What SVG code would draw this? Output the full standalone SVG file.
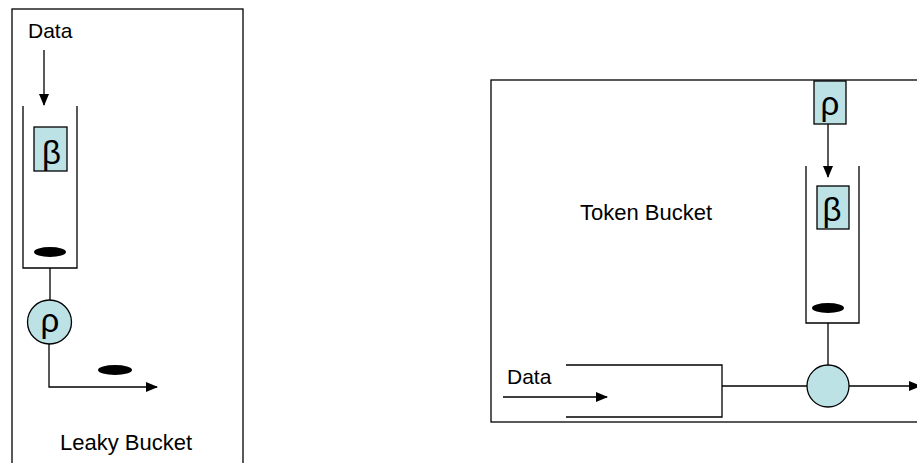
<svg xmlns="http://www.w3.org/2000/svg" width="917" height="463" viewBox="0 0 917 463">
<defs>
<marker id="ah" markerWidth="12" markerHeight="10" refX="11" refY="5" orient="auto" markerUnits="userSpaceOnUse">
<path d="M0,0 L12,5 L0,10 Z" fill="#000"/>
</marker>
<style>
.ln{stroke:#000;stroke-width:1.3;fill:none}
.fr{stroke:#000;stroke-width:1.3;fill:#fff}
.sym{fill:#bce2e6;stroke:#000;stroke-width:1.3}
.tok{fill:#000}
.t{font-family:"Liberation Sans",Arial,sans-serif;font-size:22px;fill:#000}
.g{font-family:"Liberation Sans",Arial,sans-serif;font-size:33px;fill:#000}
</style>
</defs>
<rect width="917" height="463" fill="#fff"/>

<g id="leaky">
<rect class="fr" x="12" y="9" width="231" height="470"/>
<text class="t" x="28" y="38" style="font-size:21px">Data</text>
<g id="leaky-bucket">
<path class="ln" d="M23,106 V268 H77 V106"/>
<ellipse class="tok" cx="50" cy="252" rx="16" ry="5"/>
</g>
<g id="leaky-beta">
<rect class="sym" x="34" y="127" width="33" height="44"/>
<text class="g" x="51.5" y="164" text-anchor="middle">β</text>
</g>
<g id="leaky-rho">
<circle class="sym" cx="49.5" cy="322" r="22"/>
<text class="g" x="50" y="332" text-anchor="middle">ρ</text>
</g>
<ellipse class="tok" cx="115" cy="370" rx="17" ry="5"/>
<text class="t" x="60" y="450">Leaky Bucket</text>
</g>

<g id="token">
<rect class="fr" x="491" y="80" width="460" height="342"/>
<text class="t" x="580" y="220">Token Bucket</text>
<g id="token-rho">
<rect class="sym" x="814" y="81" width="32" height="43"/>
<text class="g" x="830" y="115" text-anchor="middle">ρ</text>
</g>
<g id="token-bucket">
<path class="ln" d="M806,166 V323 H859 V166"/>
<ellipse class="tok" cx="828" cy="308" rx="16" ry="5"/>
</g>
<g id="token-beta">
<rect class="sym" x="817" y="186" width="32" height="43"/>
<text class="g" x="832" y="221" text-anchor="middle">β</text>
</g>
<g id="data-channel">
<path class="ln" d="M566,365 H722 V417 H566"/>
<text class="t" x="507" y="384" style="font-size:21px">Data</text>
</g>
<g id="token-gate">
<circle class="sym" cx="828" cy="386" r="21"/>
</g>
</g>

<g id="connectors">
<line class="ln" x1="44" y1="50" x2="44" y2="105" marker-end="url(#ah)"/>
<line class="ln" x1="50" y1="268" x2="50" y2="300"/>
<path class="ln" d="M49,344 V387 H157" marker-end="url(#ah)"/>
<line class="ln" x1="828" y1="124" x2="828" y2="177" marker-end="url(#ah)"/>
<line class="ln" x1="828" y1="323" x2="828" y2="365"/>
<line class="ln" x1="503" y1="397" x2="607" y2="397" marker-end="url(#ah)"/>
<line class="ln" x1="722" y1="386" x2="807" y2="386"/>
<line class="ln" x1="849" y1="386" x2="920" y2="386" marker-end="url(#ah)"/>
</g>
</svg>
